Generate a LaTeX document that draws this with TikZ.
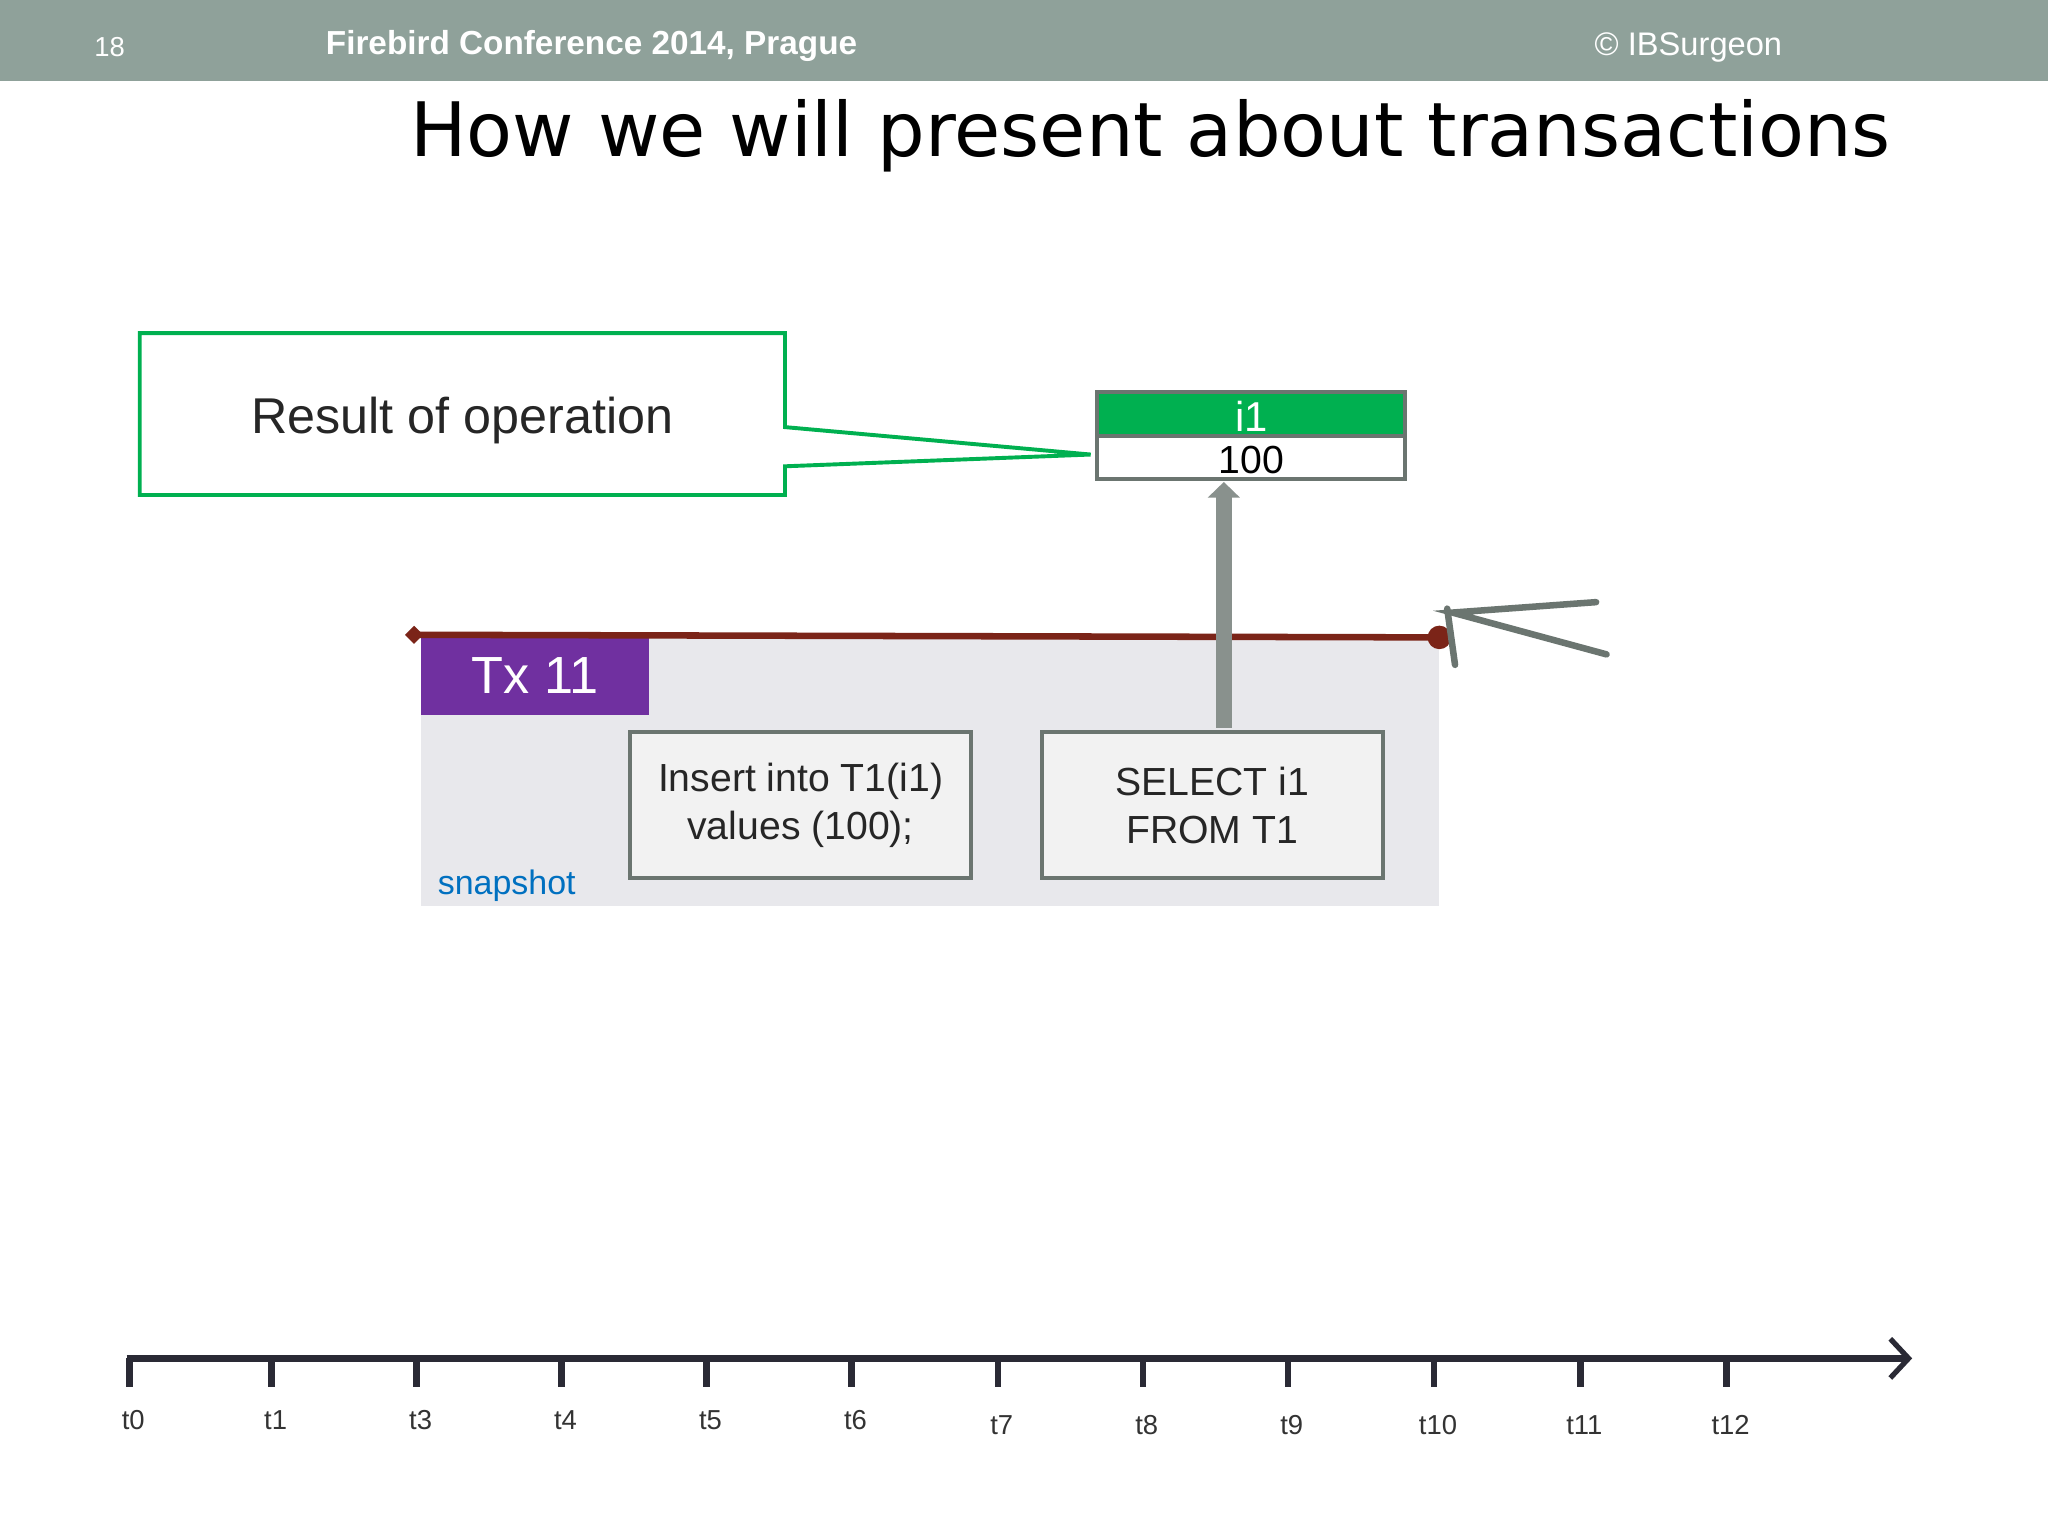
\documentclass[tikz,border=0pt]{standalone}
\usepackage{fontspec}
\setmainfont{Liberation Sans}
\newfontfamily\titlefont{DejaVu Sans}
\usetikzlibrary{arrows.meta,shapes.geometric}
\definecolor{hdr}{HTML}{8FA19A}
\definecolor{grn}{HTML}{00B050}
\definecolor{gbord}{HTML}{6B7570}
\definecolor{bgbox}{HTML}{E8E8EC}
\definecolor{purp}{HTML}{7030A0}
\definecolor{dred}{HTML}{7B2418}
\definecolor{axis}{HTML}{2A2A35}
\definecolor{snap}{HTML}{0070C0}
\tikzset{opbox/.style={draw=gbord,line width=3pt,fill=black!5,minimum width=261pt,minimum height=112pt,anchor=north west,align=center,font=\fontsize{30}{37}\selectfont,text=black!85},
tlabel/.style={font=\fontsize{21}{24}\selectfont,text=black!80}}
\begin{document}
\begin{tikzpicture}[x=1pt,y=-1pt]
\useasboundingbox (0,0) rectangle (1568,1176);
\fill[white] (0,0) rectangle (1568,1176);
\fill[hdr] (0,0) rectangle (1568,62);
\node[text=white,font=\fontsize{21}{24}\selectfont] (pg) at (84,36) {18};
\node[text=white,font=\bfseries\fontsize{25.5}{28}\selectfont,anchor=west] (conf) at (246,35) {Firebird Conference 2014, Prague};
\node[text=white,font=\fontsize{25}{28}\selectfont,anchor=east] (ibs) at (1368,36) {© IBSurgeon};
\node[font=\titlefont\fontsize{57.5}{64}\selectfont] (title) at (881,104) {How we will present about transactions};
% callout
\draw[grn,line width=3pt,fill=white] (107,255) -- (601,255) -- (601,327) -- (835,348) -- (601,357) -- (601,379) -- (107,379) -- cycle;
\node[font=\fontsize{38.5}{44}\selectfont,text=black!85] (res) at (354,322) {Result of operation};
% i1 box
\fill[grn] (840,300) rectangle (1076,334);
\fill[white] (840,334) rectangle (1076,367);
\draw[gbord,line width=3pt] (840,300) rectangle (1076,367);
\draw[gbord,line width=3pt] (840,334) -- (1076,334);
\node[text=white,font=\fontsize{32}{36}\selectfont] (i1) at (958,319) {i1};
\node[font=\fontsize{30}{34}\selectfont] (v) at (958,352) {100};
\coordinate (ib) at (937,369);
% tx area
\fill[bgbox] (322,487) rectangle (1102,694);
\node[fill=purp,text=white,minimum width=175pt,minimum height=60pt,anchor=north west,inner sep=0pt,font=\fontsize{40}{46}\selectfont] (tx) at (322,487) {Tx 11};
\draw[dred,line width=5pt] (317,486) -- (1102,488);
\node[diamond,fill=dred,inner sep=0pt,minimum size=14pt] (d) at (317,486) {};
\node[circle,fill=dred,inner sep=0pt,minimum size=18pt] (c) at (1102,488) {};
\node[opbox] (ins) at (481,559) {Insert into T1(i1)\\values (100);};
\node[opbox] (sel) at (796,559) {SELECT i1\\FROM T1};
\draw[gbord!80,line width=12pt,-{Triangle[width=24pt,length=12pt]}] (937,557) -- (ib);
\node[text=snap,font=\fontsize{26}{30}\selectfont] (snap) at (388,678) {snapshot};
% grey strokes
\draw[gbord,line width=5pt,line cap=round] (1222,461) -- (1112,469) -- (1230,501);
\draw[gbord,line width=5pt,line cap=round] (1108,466) -- (1114,509);
% axis
\coordinate (a0) at (97,1040);
\coordinate (a1) at (1464,1040);
\draw[axis,line width=5pt,-{Straight Barb[length=14pt,width=30pt,line width=4pt]}] (a0) -- (a1);
\foreach \x/\t/\y in {99/t0/1087,208/t1/1087,319/t3/1087,430/t4/1087,541/t5/1087,652/t6/1087,764/t7/1091,875/t8/1091,986/t9/1091,1098/t10/1091,1210/t11/1091,1322/t12/1091}{
  \draw[axis,line width=5pt] (\x,1040) -- (\x,1062);
  \node[tlabel] (l\t) at (\x+3,\y) {\t};
}
\end{tikzpicture}
\end{document}
